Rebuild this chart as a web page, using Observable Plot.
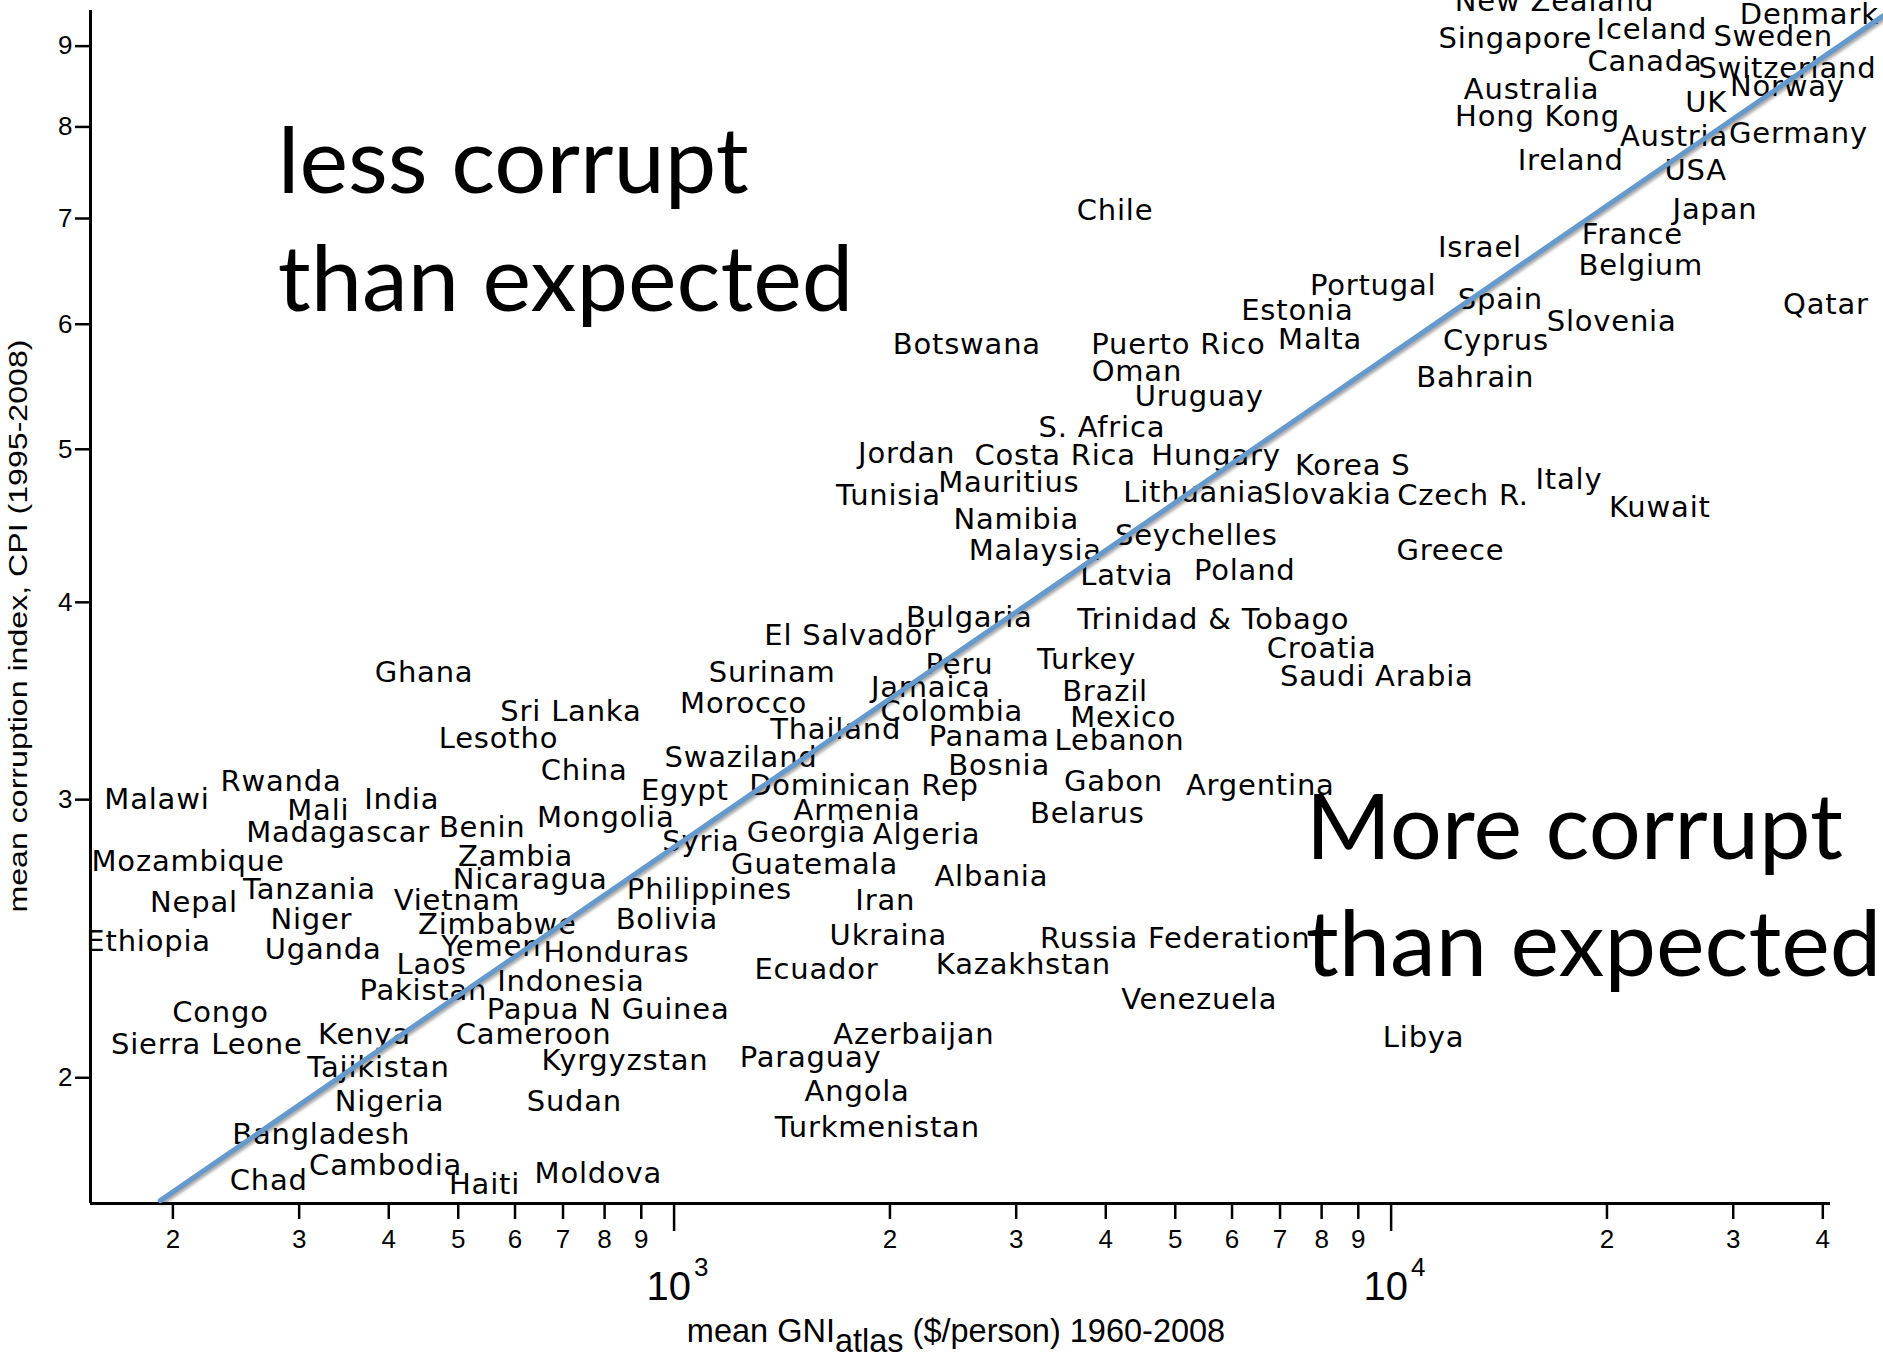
<!DOCTYPE html>
<html>
<head>
<meta charset="utf-8">
<script src="https://cdn.jsdelivr.net/npm/d3@7"></script>
<script src="https://cdn.jsdelivr.net/npm/@observablehq/plot@0.6"></script>
<style>
  html, body { margin: 0; padding: 0; background: #fff; }
  #chart svg { display: block; }
</style>
</head>
<body>
<div id="chart"></div>
<script>
// Country labels: mean GNI (atlas method, $/person, 1960-2008) vs mean CPI (1995-2008)
const countries = [
  "New Zealand", "Iceland", "Denmark", "Singapore", "Sweden", "Canada", "Switzerland",
  "Australia", "Norway", "UK", "Hong Kong", "Austria", "Germany", "Ireland", "USA",
  "Japan", "Chile", "France", "Israel", "Belgium", "Portugal", "Spain", "Estonia",
  "Qatar", "Slovenia", "Malta", "Cyprus", "Botswana", "Puerto Rico", "Oman", "Bahrain",
  "Uruguay", "S. Africa", "Jordan", "Costa Rica", "Hungary", "Korea S", "Italy",
  "Mauritius", "Tunisia", "Lithuania", "Slovakia", "Czech R.", "Kuwait", "Namibia",
  "Seychelles", "Malaysia", "Greece", "Latvia", "Poland", "Bulgaria", "Trinidad & Tobago",
  "El Salvador", "Croatia", "Peru", "Turkey", "Ghana", "Surinam", "Saudi Arabia",
  "Jamaica", "Brazil", "Sri Lanka", "Morocco", "Colombia", "Mexico", "Lesotho",
  "Thailand", "Panama", "Lebanon", "Swaziland", "China", "Bosnia", "Rwanda", "Egypt",
  "Armenia", "Dominican Rep", "Gabon", "Argentina", "Malawi", "India", "Mali",
  "Mongolia", "Belarus", "Madagascar", "Benin", "Syria", "Georgia", "Algeria",
  "Mozambique", "Zambia", "Guatemala", "Albania", "Nicaragua", "Tanzania",
  "Philippines", "Vietnam", "Nepal", "Iran", "Niger", "Zimbabwe", "Bolivia", "Ukraina",
  "Russia Federation", "Ethiopia", "Uganda", "Yemen", "Honduras", "Laos", "Ecuador",
  "Kazakhstan", "Pakistan", "Indonesia", "Venezuela", "Congo", "Papua N Guinea",
  "Azerbaijan", "Libya", "Sierra Leone", "Kenya", "Cameroon", "Tajikistan",
  "Kyrgyzstan", "Paraguay", "Nigeria", "Sudan", "Angola", "Bangladesh",
  "Turkmenistan", "Cambodia", "Chad", "Haiti", "Moldova"
];
const gni = [
  16900, 23100, 38300, 14900, 34100, 22600, 35700,
  15700, 35700, 27500, 16000, 24800, 37000, 17800, 26600,
  28300, 4120, 21700, 13300, 22300, 9440, 14200, 7400,
  40400, 20300, 7960, 14000, 2560, 5050, 4420, 13100,
  5400, 3950, 2110, 3400, 5700, 8840, 17700,
  2930, 1990, 5310, 8150, 12600, 23700, 3000,
  5350, 3190, 12100, 4280, 6250, 2580, 5650,
  1760, 8000, 2500, 3760, 448, 1370, 9550,
  2280, 3990, 718, 1250, 2440, 4230, 569,
  1680, 2750, 4180, 1240, 749, 2840, 283, 1035,
  1800, 1840, 4100, 6570, 190, 417, 319,
  803, 3770, 340, 540, 1090, 1530, 2250,
  210, 601, 1570, 2770, 630, 310,
  1120, 498, 214, 1970, 312, 567, 977, 1990,
  5000, 185, 324, 556, 831, 459, 1580,
  3070, 447, 718, 5400, 233, 809,
  2160, 11100, 223, 370, 637, 387,
  854, 1550, 401, 726, 1800, 322,
  1920, 396, 272, 544, 784
];
const cpi = [
  9.60, 9.22, 9.42, 9.10, 9.13, 8.80, 8.71,
  8.44, 8.48, 8.29, 8.12, 7.89, 7.92, 7.61, 7.50,
  7.09, 7.08, 6.84, 6.71, 6.53, 6.35, 6.22, 6.12,
  6.17, 6.02, 5.87, 5.86, 5.82, 5.82, 5.60, 5.55,
  5.40, 5.16, 4.97, 4.95, 4.95, 4.88, 4.78,
  4.76, 4.67, 4.69, 4.68, 4.67, 4.59, 4.51,
  4.41, 4.31, 4.31, 4.16, 4.19, 3.91, 3.90,
  3.81, 3.74, 3.65, 3.68, 3.61, 3.61, 3.59,
  3.53, 3.51, 3.41, 3.45, 3.41, 3.38, 3.28,
  3.32, 3.29, 3.27, 3.19, 3.13, 3.15, 3.08, 3.04,
  2.95, 3.06, 3.08, 3.06, 3.00, 3.00, 2.95,
  2.92, 2.94, 2.86, 2.88, 2.82, 2.86, 2.85,
  2.74, 2.76, 2.73, 2.68, 2.67, 2.63,
  2.63, 2.59, 2.58, 2.59, 2.52, 2.50, 2.52, 2.46,
  2.45, 2.44, 2.41, 2.42, 2.40, 2.36, 2.34,
  2.36, 2.27, 2.30, 2.24, 2.20, 2.21,
  2.13, 2.12, 2.10, 2.13, 2.13, 2.03,
  2.05, 2.06, 1.93, 1.93, 1.96, 1.84,
  1.86, 1.76, 1.72, 1.71, 1.74
];

// Power-law fit, given by its two end points (GNI, CPI)
const fitGNI = [192, 48600];
const fitCPI = [1.672, 9.41];

// Annotations, one entry per line of text
const noteText = ["less corrupt", "than expected", "More corrupt", "than expected"];
const noteGNI = [280, 280, 7600, 7600];
const noteCPI = [7.27, 6.12, 2.75, 2.32];

// Axis ticks
const xDomain = [153.5, 41000];
const yDomain = [1.665, 9.48];
const xMinorTicks = [200, 300, 400, 500, 600, 700, 800, 900,
                     2000, 3000, 4000, 5000, 6000, 7000, 8000, 9000,
                     20000, 30000, 40000];
const xMinorLabels = ["2", "3", "4", "5", "6", "7", "8", "9",
                      "2", "3", "4", "5", "6", "7", "8", "9",
                      "2", "3", "4"];
const xDecadeTicks = [1000, 10000];
const xDecadeExponents = ["3", "4"];
const yTicks = [2, 3, 4, 5, 6, 7, 8, 9];

const labels = countries.map((name, i) => ({name, gni: gni[i], cpi: cpi[i]}));
const fit = fitGNI.map((g, i) => ({gni: g, cpi: fitCPI[i]}));
const notes = noteText.map((t, i) => ({text: t, gni: noteGNI[i], cpi: noteCPI[i]}));
const decades = xDecadeTicks.map((v, i) => ({v, exp: xDecadeExponents[i]}));
const minor = xMinorTicks.map((v, i) => ({v, label: xMinorLabels[i]}));

const axisFont = "'Liberation Sans', Arial, Helvetica, sans-serif";

const chart = Plot.plot({
  width: 1883,
  height: 1362,
  marginLeft: 90,
  marginRight: 53,
  marginTop: 10,
  marginBottom: 159,
  style: {background: "white", fontFamily: axisFont},
  x: {type: "log", domain: xDomain},
  y: {type: "log", domain: yDomain},
  marks: [
    // axis lines
    Plot.ruleY([yDomain[0]], {stroke: "black", strokeWidth: 3}),
    Plot.ruleX([xDomain[0]], {stroke: "black", strokeWidth: 3}),
    // x ticks: short ticks with the leading digit, longer ticks at decades
    Plot.axisX({ticks: xMinorTicks, tickSize: 16, tickFormat: () => "", strokeWidth: 2.5, label: null}),
    Plot.axisX({ticks: xDecadeTicks, tickSize: 28, tickFormat: () => "", strokeWidth: 2.5, label: null}),
    Plot.text(minor, {
      x: "v", frameAnchor: "bottom", text: "label",
      lineAnchor: "top", dy: 26, fontSize: 26
    }),
    Plot.text(decades, {
      x: "v", frameAnchor: "bottom", text: () => "10",
      textAnchor: "end", lineAnchor: "bottom", dx: 17, dy: 96, fontSize: 40
    }),
    Plot.text(decades, {
      x: "v", frameAnchor: "bottom", text: "exp",
      textAnchor: "start", lineAnchor: "bottom", dx: 20, dy: 72, fontSize: 26
    }),
    // y ticks
    Plot.axisY({ticks: yTicks, tickSize: 15, tickFormat: () => "", strokeWidth: 2.5, label: null}),
    Plot.text(yTicks, {
      y: d => d, frameAnchor: "left", text: d => String(d),
      textAnchor: "end", dx: -18, fontSize: 26
    }),
    // country names
    Plot.text(labels, {
      x: "gni", y: "cpi", text: "name",
      fontSize: 29, fontFamily: "'DejaVu Sans', Verdana, sans-serif", fill: "black"
    }),
    // fitted line
    Plot.line(fit, {x: "gni", y: "cpi", stroke: "#6699cc", strokeWidth: 5}),
    // annotations
    Plot.text(notes, {
      x: "gni", y: "cpi", text: "text",
      textAnchor: "start", lineAnchor: "bottom",
      fontSize: 92, fontFamily: "Lato, 'Open Sans', sans-serif", fill: "black"
    })
  ]
});

const svg = d3.select(chart);

// slightly wider letter spacing for the country names
svg.selectAll("g[font-family*='DejaVu']").attr("letter-spacing", 0.8);

// soft shadow under the fitted line
svg.selectAll('g[aria-label="line"] path')
  .style("filter", "drop-shadow(2px 2px 1.5px rgba(0,0,0,0.35))");

// x-axis title with subscript
const xt = svg.append("text")
  .attr("x", 956)
  .attr("y", 1342)
  .attr("text-anchor", "middle")
  .attr("font-size", 32.5)
  .attr("font-family", axisFont)
  .attr("fill", "black");
xt.append("tspan").text("mean GNI");
xt.append("tspan").attr("dy", 10).text("atlas");
xt.append("tspan").attr("dy", -10).text(" ($/person) 1960-2008");

// y-axis title
svg.append("text")
  .attr("transform", "translate(27,626) rotate(-90)")
  .attr("text-anchor", "middle")
  .attr("font-size", 26)
  .attr("font-family", axisFont)
  .attr("fill", "black")
  .attr("textLength", 573)
  .attr("lengthAdjust", "spacingAndGlyphs")
  .text("mean corruption index, CPI (1995-2008)");

document.getElementById("chart").appendChild(chart);
</script>
</body>
</html>
